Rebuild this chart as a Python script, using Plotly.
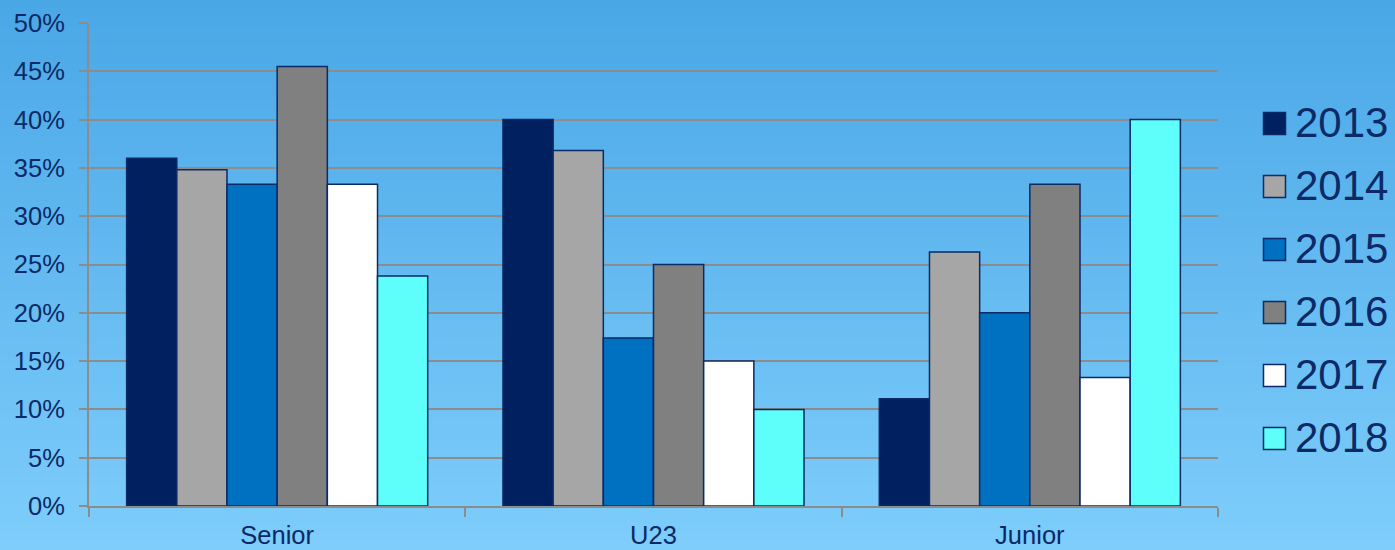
import plotly.graph_objects as go

categories = ["Senior", "U23", "Junior"]
years = ["2013", "2014", "2015", "2016", "2017", "2018"]
v2013 = [0.360, 0.400, 0.111]
v2014 = [0.348, 0.368, 0.263]
v2015 = [0.333, 0.174, 0.200]
v2016 = [0.455, 0.250, 0.333]
v2017 = [0.333, 0.150, 0.133]
v2018 = [0.238, 0.100, 0.400]
series = [v2013, v2014, v2015, v2016, v2017, v2018]
colors = ["#002060", "#A6A6A6", "#0070C0", "#808080", "#FFFFFF", "#5EFFFA"]

TEXT = "#0B2A66"
FONT = "Liberation Sans, Arial, sans-serif"

# plot area geometry (pixels)
L, R, T, B = 89, 177, 23, 44
W, H = 1395, 550
PW, PH = W - L - R, H - T - B

def px_x(x):
    return (x - L) / PW

def px_y(y):
    return (H - B - y) / PH

fig = go.Figure()
for name, vals, col in zip(years, series, colors):
    fig.add_trace(go.Bar(
        x=categories, y=vals, name=name, showlegend=False,
        marker=dict(color=col, line=dict(color="#0B2A66", width=1.5)),
    ))

# gradient background built from horizontal strips
def lerp(a, b, t):
    return int(round(a + (b - a) * t))
top = (74, 167, 230)
bot = (126, 205, 251)
N = 60
y0p, y1p = px_y(H), px_y(0)
shapes = []
for i in range(N):
    t = i / (N - 1)
    c = tuple(lerp(top[k], bot[k], t) for k in range(3))
    ya = y1p - (y1p - y0p) * i / N
    yb = y1p - (y1p - y0p) * (i + 1) / N
    shapes.append(dict(type="rect", xref="paper", yref="paper",
                       x0=px_x(0), x1=px_x(W), y0=yb - 0.002, y1=ya + 0.002,
                       fillcolor="rgb(%d,%d,%d)" % c, line=dict(width=0), layer="below"))

# legend: squares + labels
annotations = []
for i, (name, col) in enumerate(zip(years, colors)):
    cy = 123.5 + 63 * i
    shapes.append(dict(type="rect", xref="paper", yref="paper",
                       x0=px_x(1263.5), x1=px_x(1285.5), y0=px_y(cy + 11), y1=px_y(cy - 11),
                       fillcolor=col, line=dict(color="#0B2A66", width=1.5), layer="above"))
    annotations.append(dict(xref="paper", yref="paper", x=px_x(1293), y=px_y(cy - 1),
                            xanchor="left", yanchor="middle", text=name, showarrow=False,
                            font=dict(size=42, color=TEXT, family=FONT)))

fig.update_layout(
    width=W, height=H,
    margin=dict(l=L, r=R, t=T, b=B, autoexpand=False),
    paper_bgcolor="rgb(126,205,251)",
    plot_bgcolor="rgba(0,0,0,0)",
    barmode="group", bargap=0.2, bargroupgap=0,
    shapes=shapes, annotations=annotations,
    font=dict(family=FONT, color=TEXT),
    showlegend=False,
)
fig.update_xaxes(
    showline=True, linecolor="#8C8C8C", linewidth=2,
    ticks="outside", tickson="boundaries", ticklen=9, tickcolor="#8C8C8C", tickwidth=2,
    tickfont=dict(size=25.5, color=TEXT, family=FONT), ticklabelstandoff=5,
    showgrid=False, automargin=False,
)
fig.update_yaxes(
    range=[0, 0.5], dtick=0.05, tickformat=".0%",
    showline=True, linecolor="#8C8C8C", linewidth=2,
    ticks="outside", ticklen=8, tickcolor="#8C8C8C", tickwidth=2,
    showgrid=True, gridcolor="#8C8C8C", gridwidth=2,
    tickfont=dict(size=25.5, color=TEXT, family=FONT), ticklabelstandoff=9,
    zeroline=False, automargin=False,
)
fig.write_html("out.html", config={"displayModeBar": False},
               post_script="document.body.style.margin='0';document.body.style.overflow='hidden';")
